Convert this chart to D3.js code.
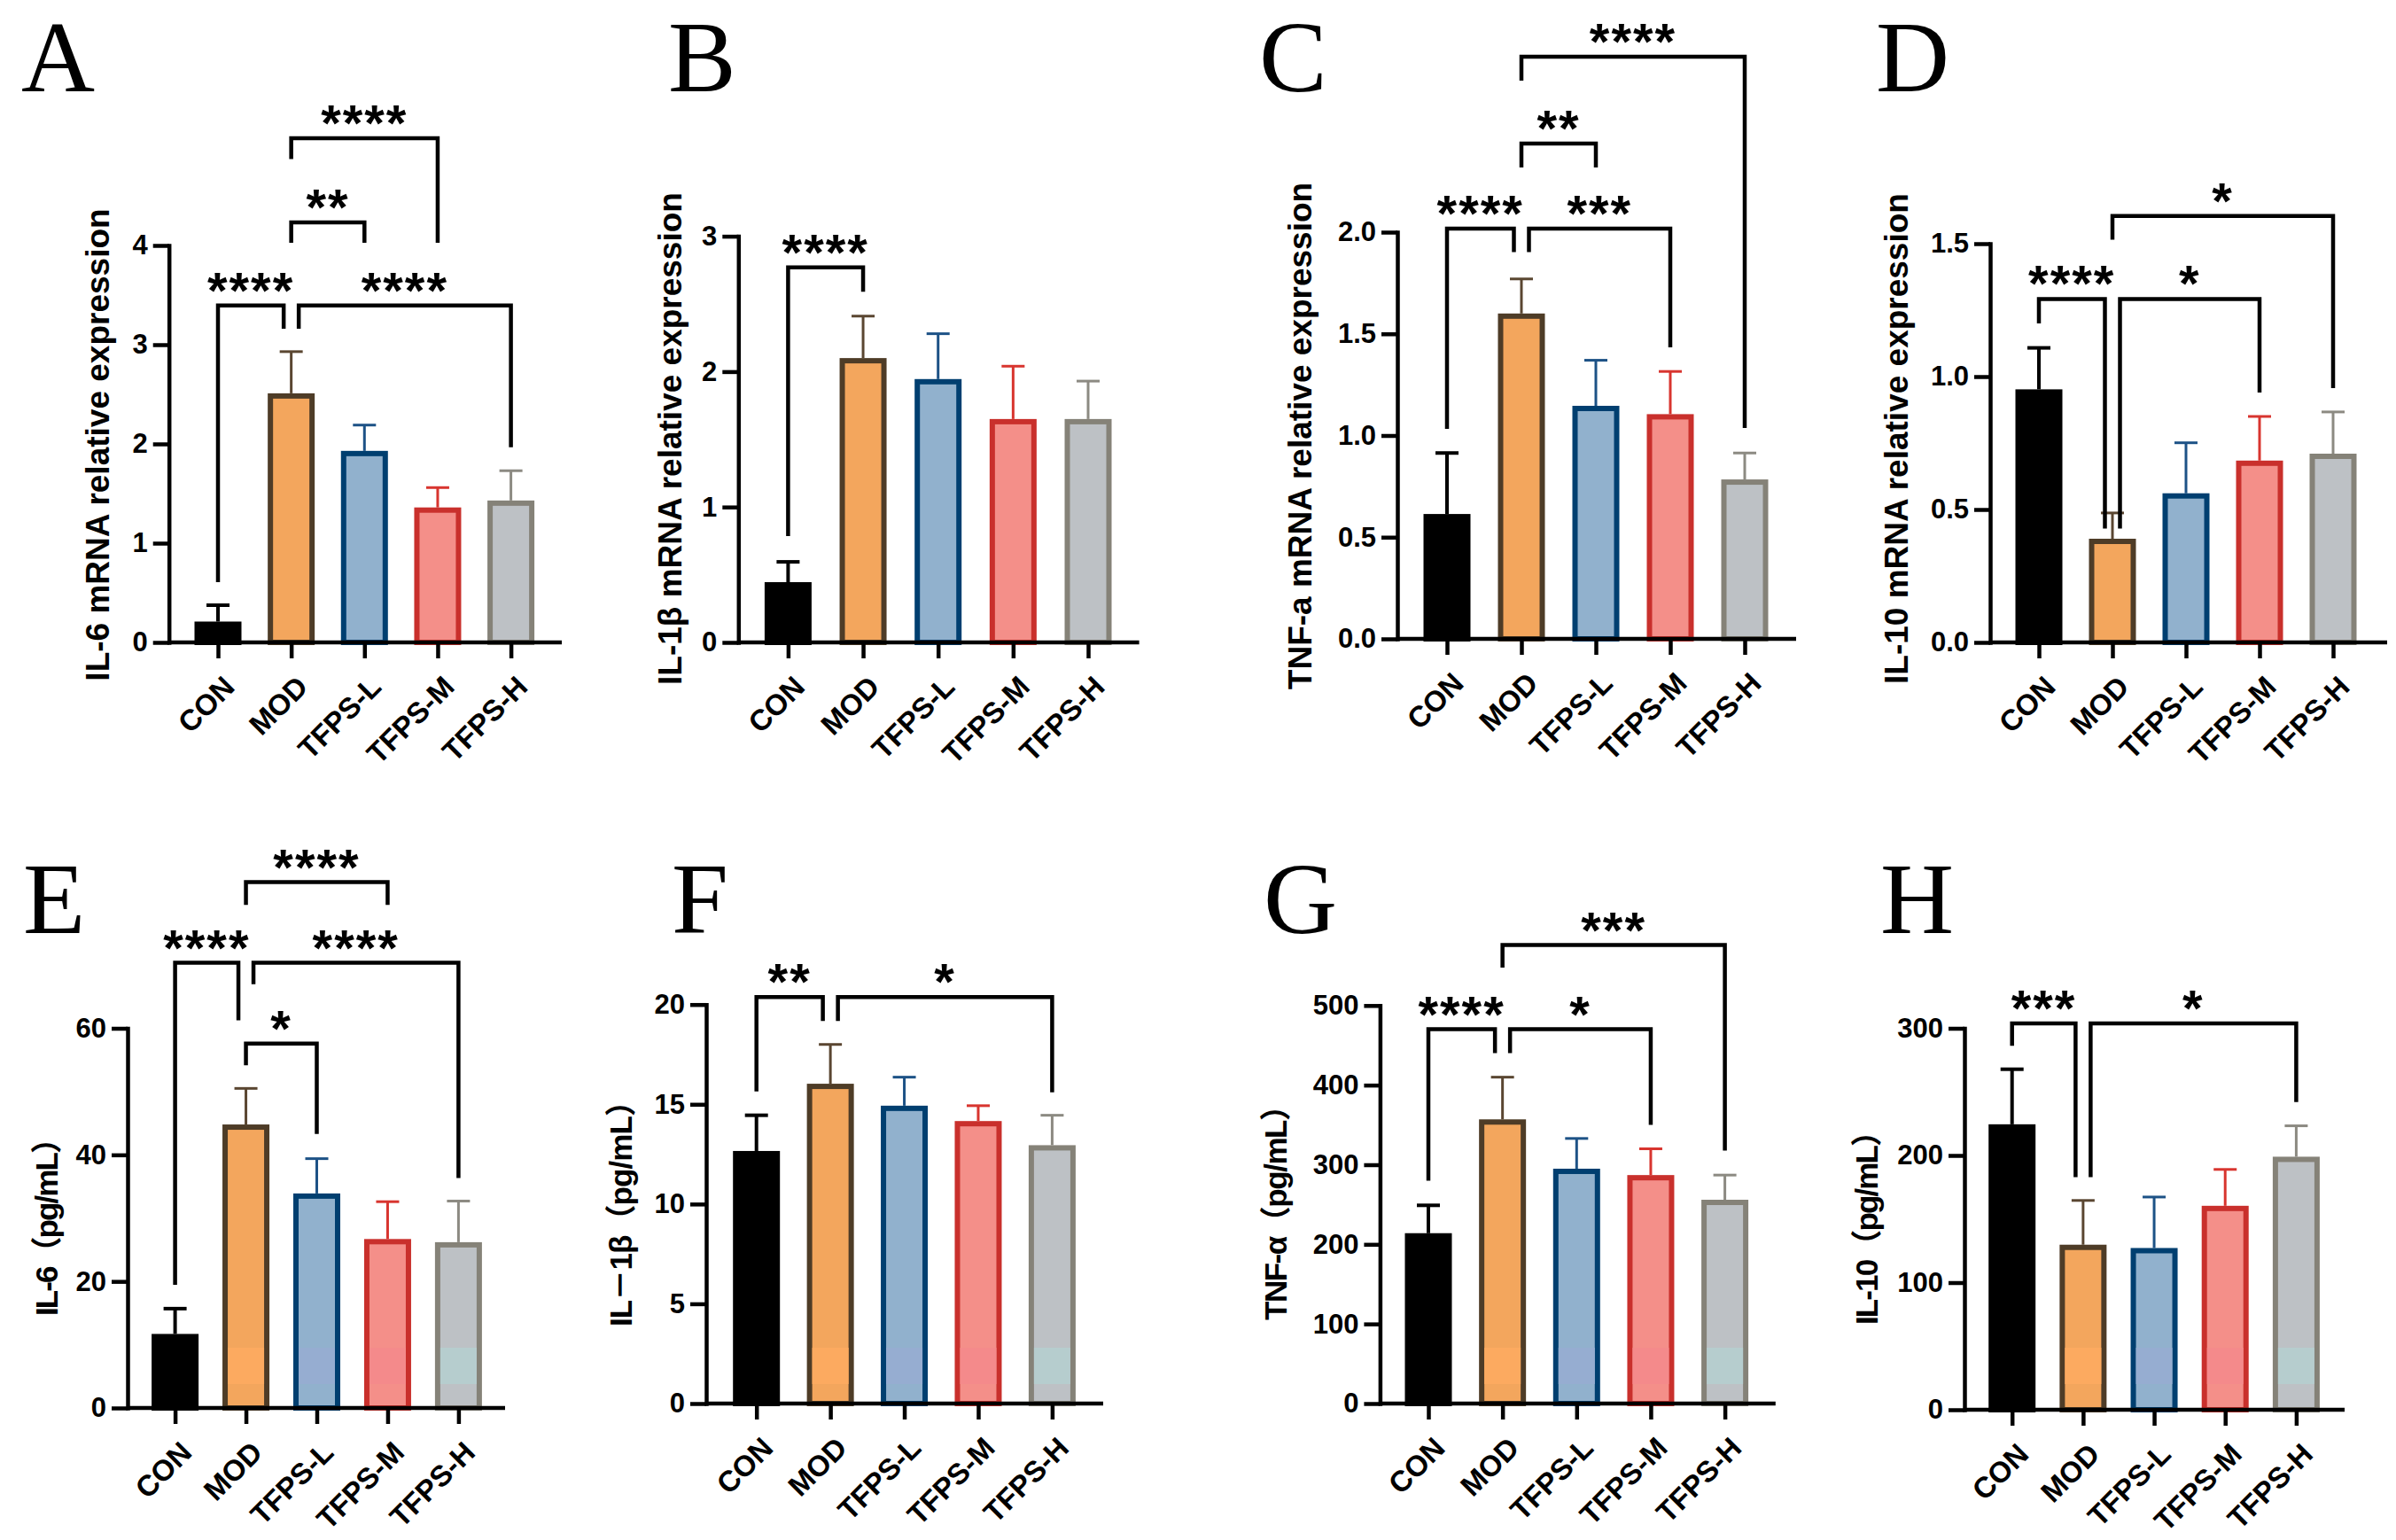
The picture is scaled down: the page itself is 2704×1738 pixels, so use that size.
<!DOCTYPE html>
<html>
<head>
<meta charset="utf-8">
<script src="https://cdn.jsdelivr.net/npm/d3@7"></script>
<style>
  body { margin: 0; background: #fff; }
  svg { display: block; }
</style>
</head>
<body>
<div id="chart"></div>
<script>
var groups = ["CON", "MOD", "TFPS-L", "TFPS-M", "TFPS-H"];

// group means and SD
var il6mRNA    = [0.21, 2.51, 1.93, 1.36, 1.43];
var il6mRNASd  = [0.165, 0.42, 0.26, 0.20, 0.30];
var il1bmRNA   = [0.445, 2.10, 1.945, 1.65, 1.65];
var il1bmRNASd = [0.15, 0.31, 0.335, 0.39, 0.28];
var tnfmRNA    = [0.614, 1.60, 1.146, 1.105, 0.784];
var tnfmRNASd  = [0.30, 0.17, 0.224, 0.21, 0.13];
var il10mRNA   = [0.952, 0.39, 0.561, 0.684, 0.71];
var il10mRNASd = [0.156, 0.097, 0.19, 0.166, 0.157];
var il6Elisa    = [11.7, 44.8, 33.9, 26.7, 26.2];
var il6ElisaSd  = [4.0, 5.7, 5.5, 5.9, 6.5];
var il1bElisa   = [12.66, 16.03, 14.93, 14.16, 12.95];
var il1bElisaSd = [1.79, 1.97, 1.43, 0.77, 1.5];
var tnfElisa    = [214, 357, 295, 287, 256];
var tnfElisaSd  = [35, 53, 38, 33, 31];
var il10Elisa   = [224.5, 129.8, 127.2, 160.4, 199];
var il10ElisaSd = [43.3, 34.8, 40.1, 28.6, 24.3];

// significance brackets: [from, to, bracket level, left leg end, right leg end, label] (data units)
var sigA = [["CON", "MOD", 3.395, 0.607, 3.16, "****"],
            ["MOD", "TFPS-H", 3.395, 3.16, 1.967, "****"],
            ["MOD", "TFPS-L", 4.232, 4.027, 4.027, "**"],
            ["MOD", "TFPS-M", 5.08, 4.87, 4.027, "****"]];
var sigB = [["CON", "MOD", 2.77, 0.785, 2.59, "****"]];
var sigC = [["CON", "MOD", 2.017, 1.033, 1.902, "****"],
            ["MOD", "TFPS-M", 2.017, 1.902, 1.434, "***"],
            ["MOD", "TFPS-L", 2.436, 2.318, 2.318, "**"],
            ["MOD", "TFPS-H", 2.863, 2.745, 1.037, "****"]];
var sigD = [["CON", "MOD", 1.292, 1.2, 0.428, "****"],
            ["MOD", "TFPS-M", 1.292, 0.428, 0.94, "*"],
            ["MOD", "TFPS-H", 1.604, 1.515, 0.957, "*"]];
var sigE = [["CON", "MOD", 70.36, 19.47, 61.27, "****"],
            ["MOD", "TFPS-H", 70.36, 66.97, 36.35, "****"],
            ["MOD", "TFPS-L", 57.6, 54.15, 43.3, "*"],
            ["MOD", "TFPS-M", 83.1, 79.5, 79.5, "****"]];
var sigF = [["CON", "MOD", 20.37, 15.64, 19.18, "**"],
            ["MOD", "TFPS-H", 20.37, 19.18, 15.6, "*"]];
var sigG = [["CON", "MOD", 470.2, 280, 440.2, "****"],
            ["MOD", "TFPS-M", 470.2, 440.2, 350, "*"],
            ["MOD", "TFPS-H", 576, 547.6, 317.7, "***"]];
var sigH = [["CON", "MOD", 303.8, 286.2, 182.9, "***"],
            ["MOD", "TFPS-H", 303.8, 182.9, 242, "*"]];

// styles
var fillColors   = ["#000000", "#F3A65D", "#91B1CD", "#F48F89", "#BDC1C5"];
var strokeColors = ["#000000", "#4E3C27", "#003F70", "#C9302C", "#858278"];
var errColors    = ["#000000", "#5A4631", "#1D5286", "#D8352F", "#8C8A82"];
var tintColors   = [null, "#FCAA60", "#96ADD1", "#F48A8B", "#B6CDCE"];

var panels = [
  {letter: "A", lx: 24, ly: 103, title: "IL-6 mRNA relative expression", tx: 110, ty: 502, ts: 37,
   mean: il6mRNA, sd: il6mRNASd, sig: sigA, yMax: 4, yStep: 1, fmt: "d",
   ax: 190.7, y0: 725, yTop: 277, first: 246, last: 576.6, end: 634},
  {letter: "B", lx: 754, ly: 103, title: "IL-1β mRNA relative expression", tx: 756, ty: 495, ts: 37,
   mean: il1bmRNA, sd: il1bmRNASd, sig: sigB, yMax: 3, yStep: 1, fmt: "d",
   ax: 833.3, y0: 725, yTop: 266.6, first: 889.4, last: 1228, end: 1285.6},
  {letter: "C", lx: 1421, ly: 103, title: "TNF-a mRNA relative expression", tx: 1467, ty: 492, ts: 37,
   mean: tnfmRNA, sd: tnfmRNASd, sig: sigC, yMax: 2, yStep: 0.5, fmt: ".1f",
   ax: 1577, y0: 721, yTop: 262, first: 1633, last: 1969, end: 2027},
  {letter: "D", lx: 2117, ly: 103, title: "IL-10 mRNA relative expression", tx: 2140, ty: 495, ts: 37,
   mean: il10mRNA, sd: il10mRNASd, sig: sigD, yMax: 1.5, yStep: 0.5, fmt: ".1f",
   ax: 2246, y0: 725, yTop: 275, first: 2301, last: 2633, end: 2694},
  {letter: "E", lx: 26, ly: 1053, title: "IL-6（pg/mL）", tx: 52, ty: 1376, ts: 35, tl: 218,
   mean: il6Elisa, sd: il6ElisaSd, sig: sigE, yMax: 60, yStep: 20, fmt: "d",
   ax: 144, y0: 1589, yTop: 1160.5, first: 197.6, last: 517.4, end: 570, tint: true},
  {letter: "F", lx: 758, ly: 1053, title: "IL－1β（pg/mL）", tx: 700, ty: 1361, ts: 35, tl: 272,
   mean: il1bElisa, sd: il1bElisaSd, sig: sigF, yMax: 20, yStep: 5, fmt: "d",
   ax: 797, y0: 1584, yTop: 1133.7, first: 853.7, last: 1187.4, end: 1245, tint: true},
  {letter: "G", lx: 1426, ly: 1053, title: "TNF-α（pg/mL）", tx: 1439, ty: 1360, ts: 35, tl: 260,
   mean: tnfElisa, sd: tnfElisaSd, sig: sigG, yMax: 500, yStep: 100, fmt: "d",
   ax: 1557.4, y0: 1584, yTop: 1134.8, first: 1612, last: 1946.6, end: 2003.8, tint: true},
  {letter: "H", lx: 2122, ly: 1053, title: "IL-10（pg/mL）", tx: 2106, ty: 1377, ts: 35, tl: 236,
   mean: il10Elisa, sd: il10ElisaSd, sig: sigH, yMax: 300, yStep: 100, fmt: "d",
   ax: 2217, y0: 1591, yTop: 1160.5, first: 2270.7, last: 2591.4, end: 2646, tint: true}
];

var W = 2704, H = 1738;
var sans = "'Liberation Sans', Arial, sans-serif";
var cjk = "'Noto Sans CJK SC', 'Noto Sans CJK JP', sans-serif";
var barW = 47, barStroke = 6, capW = 26, lineW = 4.5;
var tintTop = 1521, tintBottom = 1562;   // faint band seen across the lower row

var svg = d3.select("#chart").append("svg")
    .attr("width", W)
    .attr("height", H)
    .style("background", "#fff");

panels.forEach(drawPanel);

function drawPanel(p) {
    var g = svg.append("g");

    var x = d3.scalePoint().domain(groups).range([p.first, p.last]);
    var y = d3.scaleLinear().domain([0, p.yMax]).range([p.y0, p.yTop]);

    var rows = groups.map(function (k, i) {
        return {key: k, i: i, mean: p.mean[i], sd: p.sd[i]};
    });

    // error bars (upper only), behind the bars
    var err = g.selectAll(".err").data(rows).enter().append("g");
    err.append("line")
        .attr("x1", function (d) { return x(d.key); })
        .attr("x2", function (d) { return x(d.key); })
        .attr("y1", function (d) { return y(d.mean); })
        .attr("y2", function (d) { return y(d.mean + d.sd); });
    err.append("line")
        .attr("x1", function (d) { return x(d.key) - capW / 2; })
        .attr("x2", function (d) { return x(d.key) + capW / 2; })
        .attr("y1", function (d) { return y(d.mean + d.sd); })
        .attr("y2", function (d) { return y(d.mean + d.sd); });
    err.selectAll("line")
        .attr("stroke", function () { return errColors[d3.select(this.parentNode).datum().i]; })
        .attr("stroke-width", function () { return d3.select(this.parentNode).datum().i === 0 ? 4 : 3; });

    // bars
    g.selectAll(".bar").data(rows).enter().append("rect")
        .attr("x", function (d) { return x(d.key) - barW / 2; })
        .attr("y", function (d) { return y(d.mean) + barStroke / 2; })
        .attr("width", barW)
        .attr("height", function (d) { return p.y0 - y(d.mean) - barStroke / 2; })
        .attr("fill", function (d) { return fillColors[d.i]; })
        .attr("stroke", function (d) { return strokeColors[d.i]; })
        .attr("stroke-width", barStroke);

    if (p.tint) {
        g.selectAll(".tint").data(rows.filter(function (d) { return d.i > 0; })).enter().append("rect")
            .attr("x", function (d) { return x(d.key) - barW / 2 + barStroke / 2; })
            .attr("y", tintTop)
            .attr("width", barW - barStroke)
            .attr("height", tintBottom - tintTop)
            .attr("fill", function (d) { return tintColors[d.i]; });
    }

    // y axis
    var yAxis = d3.axisLeft(y)
        .tickValues(d3.range(0, p.yMax + p.yStep / 2, p.yStep))
        .tickFormat(d3.format(p.fmt))
        .tickSize(18)
        .tickSizeOuter(0)
        .tickPadding(6);
    var ya = g.append("g").attr("transform", "translate(" + p.ax + ",0)").call(yAxis);
    ya.select(".domain").attr("stroke-width", lineW).attr("stroke-linecap", "square");
    ya.selectAll(".tick line").attr("stroke-width", lineW);
    ya.selectAll(".tick text")
        .style("font-family", sans).style("font-weight", "bold").style("font-size", "31px")
        .attr("fill", "#000");

    // x axis
    g.append("line")
        .attr("x1", p.ax).attr("x2", p.end)
        .attr("y1", p.y0).attr("y2", p.y0)
        .attr("stroke", "#000").attr("stroke-width", lineW);
    var xa = g.append("g").attr("transform", "translate(0," + p.y0 + ")")
        .call(d3.axisBottom(x).tickSize(18).tickSizeOuter(0));
    xa.select(".domain").remove();
    xa.selectAll(".tick line").attr("stroke-width", lineW);
    xa.selectAll(".tick text")
        .attr("y", 0).attr("dy", "0.35em")
        .attr("transform", "translate(12,44) rotate(-45)")
        .style("text-anchor", "end")
        .style("font-family", sans).style("font-weight", "bold").style("font-size", "33px")
        .attr("fill", "#000");

    // y title; full-width punctuation set in the CJK face
    var t = g.append("text")
        .attr("transform", "translate(" + p.tx + "," + p.ty + ") rotate(-90)")
        .attr("dy", "0.36em")
        .attr("text-anchor", "middle")
        .style("font-family", sans).style("font-weight", "bold").style("font-size", p.ts + "px");
    if (p.tl) t.attr("textLength", p.tl).attr("lengthAdjust", "spacing");
    p.title.split(/([（）－])/).filter(function (s) { return s.length; }).forEach(function (s) {
        var span = t.append("tspan").text(s);
        if (/[（）－]/.test(s)) span.style("font-family", cjk);
    });

    // panel letter
    g.append("text")
        .attr("x", p.lx).attr("y", p.ly)
        .style("font-family", "'Liberation Serif', 'Times New Roman', serif")
        .style("font-size", "115px")
        .text(p.letter);

    // significance brackets; legs that meet at one group at the same level are split apart
    var shift = 8.5;
    p.sig.forEach(function (s) {
        var x1 = x(s[0]), x2 = x(s[1]);
        p.sig.forEach(function (o) {
            if (o === s || o[2] !== s[2]) return;
            if (o[0] === s[1]) x2 -= shift;
            if (o[1] === s[0]) x1 += shift;
        });
        var yl = y(s[2]);
        g.append("path")
            .attr("d", "M" + x1 + "," + y(s[3]) + "V" + yl + "H" + x2 + "V" + y(s[4]))
            .attr("fill", "none").attr("stroke", "#000").attr("stroke-width", lineW)
            .attr("stroke-linejoin", "miter");
        g.append("text")
            .attr("x", (x1 + x2) / 2).attr("y", yl + 3)
            .attr("text-anchor", "middle")
            .style("font-family", sans).style("font-weight", "bold").style("font-size", "58px")
            .style("letter-spacing", "2px")
            .text(s[5]);
    });
}
</script>
</body>
</html>
